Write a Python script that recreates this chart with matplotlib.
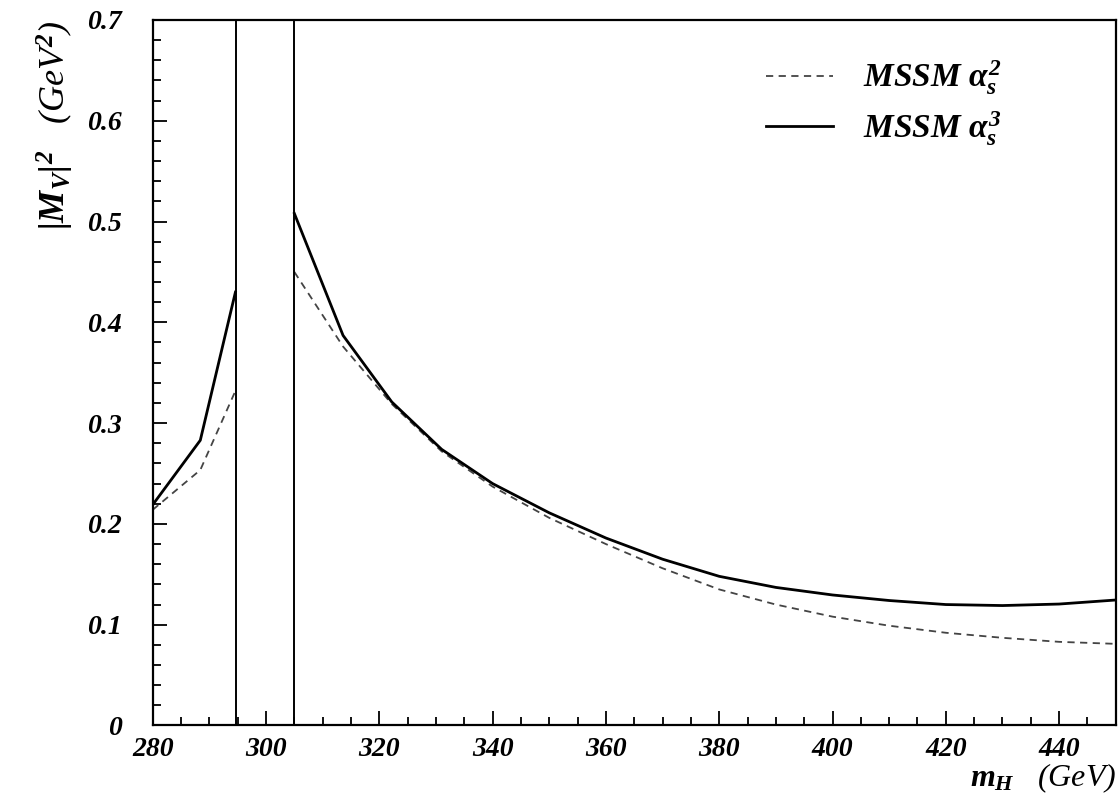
import matplotlib
matplotlib.use("Agg")
import matplotlib.pyplot as plt
from matplotlib.ticker import MultipleLocator

plt.rcParams['font.family'] = ['Liberation Serif', 'DejaVu Serif']
plt.rcParams['font.weight'] = 'bold'
plt.rcParams['font.style'] = 'italic'
plt.rcParams['mathtext.fontset'] = 'custom'
plt.rcParams['mathtext.it'] = 'Liberation Serif:bold:italic'
plt.rcParams['mathtext.rm'] = 'Liberation Serif:bold'
plt.rcParams['mathtext.bf'] = 'Liberation Serif:bold'

# |M_V|^2 below the threshold region
mh_lo = [280, 288.4, 294.6]
a2_lo = [0.214, 0.2535, 0.332]
a3_lo = [0.219, 0.283, 0.430]

# |M_V|^2 above the threshold region
mh_hi = [305, 313.6, 322.2, 331, 340, 350, 360, 370, 380, 390, 400, 410, 420, 430, 440, 450]
a3_hi = [0.508, 0.387, 0.321, 0.274, 0.240, 0.211, 0.186, 0.165, 0.148, 0.137,
         0.1295, 0.124, 0.120, 0.119, 0.1205, 0.1245]
a2_hi = [0.450, 0.376, 0.319, 0.272, 0.237, 0.206, 0.180, 0.156, 0.135, 0.120,
         0.108, 0.099, 0.092, 0.087, 0.083, 0.081]

# threshold band edges
thresholds = [294.65, 305.0]

fig = plt.figure(figsize=(11.18, 7.99), dpi=100)
ax = fig.add_axes([0.1366, 0.092, 0.8614, 0.883])

dash = (0, (4, 3))
ax.plot(mh_lo, a2_lo, color='#444444', lw=1.3, ls=dash, label=r'MSSM $\alpha_s^2$')
ax.plot(mh_lo, a3_lo, color='black', lw=2.0, label=r'MSSM $\alpha_s^3$')
ax.plot(mh_hi, a2_hi, color='#444444', lw=1.3, ls=dash)
ax.plot(mh_hi, a3_hi, color='black', lw=2.0)
for t in thresholds:
    ax.axvline(t, color='black', lw=1.4)

ax.set_xlim(280, 450)
ax.set_ylim(0, 0.7)
ax.xaxis.set_major_locator(MultipleLocator(20))
ax.xaxis.set_minor_locator(MultipleLocator(5))
ax.yaxis.set_major_locator(MultipleLocator(0.1))
ax.yaxis.set_minor_locator(MultipleLocator(0.02))
ax.yaxis.set_major_formatter(plt.FuncFormatter(lambda v, p: '0' if abs(v) < 1e-9 else f'{v:.1f}'))

ax.tick_params(which='both', direction='in', top=False, right=False, width=1.3)
ax.tick_params(which='major', length=10)
ax.tick_params(which='minor', length=6)
ax.tick_params(axis='y', pad=22, labelsize=20)
ax.tick_params(axis='x', pad=8, labelsize=20)
for s in ax.spines.values():
    s.set_linewidth(1.6)

ax.set_xlabel(r'$m_H$   (GeV)', fontsize=23, loc='right', labelpad=0)
ax.set_ylabel(r'$|M_V|^2$   (GeV$^2$)', fontsize=26, loc='top', labelpad=8)

leg = ax.legend(loc='upper left', bbox_to_anchor=(0.637, 0.945), frameon=False,
                fontsize=24, handlelength=2.0, handletextpad=0.9,
                labelspacing=0.35, borderpad=0, borderaxespad=0)

fig.savefig('out.png', dpi=100)
